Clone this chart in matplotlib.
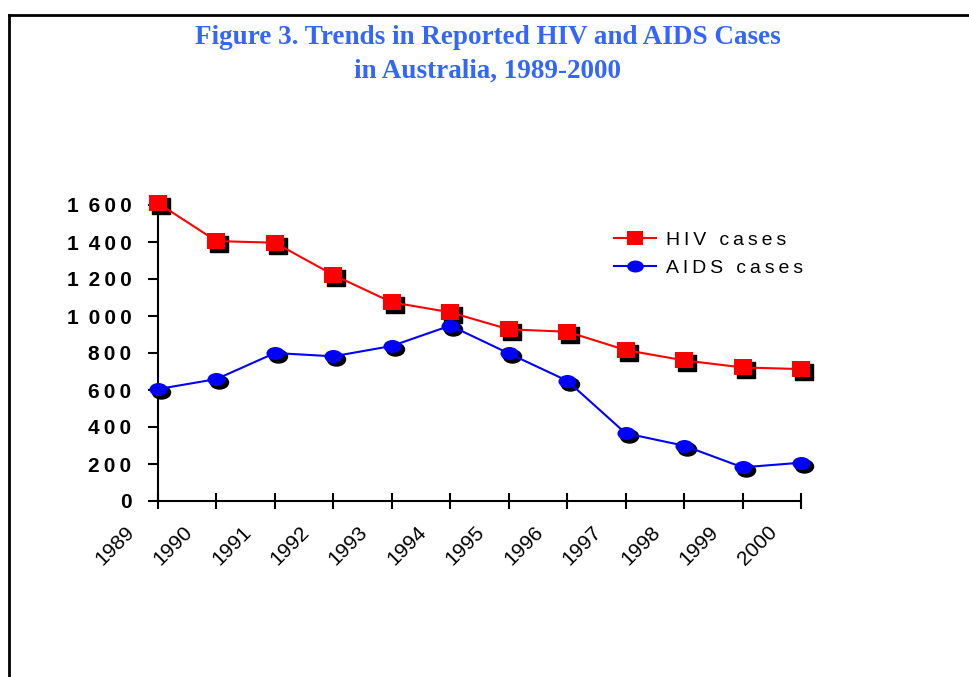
import matplotlib
matplotlib.use("Agg")
import matplotlib.pyplot as plt
import matplotlib.transforms as mtransforms
from matplotlib.path import Path
from matplotlib.lines import Line2D
from matplotlib.ticker import FuncFormatter

#--- Data
years = ["1989", "1990", "1991", "1992", "1993", "1994",
         "1995", "1996", "1997", "1998", "1999", "2000"]
hiv_cases = [1610, 1405, 1396, 1222, 1074, 1020, 928, 915, 816, 760, 722, 713]
aids_cases = [605, 659, 800, 782, 838, 948, 798, 650, 366, 299, 182, 207]
y_ticks = [0, 200, 400, 600, 800, 1000, 1200, 1400, 1600]

title = "Figure 3. Trends in Reported HIV and AIDS Cases\nin Australia, 1989-2000"

THIN = "\u2009"


def spaced(s):
    # mimic the wide letter spacing of the original chart
    return THIN.join(s)


def ylabel(v, pos):
    s = f"{int(v):,}".split(",")
    return (" " + THIN).join(spaced(part) for part in s)


# slightly flattened square and ellipse markers
square = Path([(-1, -0.85), (1, -0.85), (1, 0.85), (-1, 0.85), (-1, -0.85)],
              [Path.MOVETO, Path.LINETO, Path.LINETO, Path.LINETO, Path.CLOSEPOLY])
circ = Path.unit_circle()
ellipse = Path(circ.vertices * [1, 0.72], circ.codes)

plt.rcParams['font.family'] = ['Liberation Sans', 'DejaVu Sans']

fig = plt.figure(figsize=(9.7, 6.77), dpi=100)
ax = fig.add_axes([158 / 970, 176 / 677, 643 / 970, 296 / 677])

x = list(range(len(years)))

# drop shadows under the markers
shadow = ax.transData + mtransforms.ScaledTranslation(3 / 100, -3 / 100, fig.dpi_scale_trans)
ax.plot(x, hiv_cases, linestyle="none", marker=square, markersize=13, color="black",
        transform=shadow, clip_on=False, zorder=2)
ax.plot(x, aids_cases, linestyle="none", marker=ellipse, markersize=13, color="black",
        transform=shadow, clip_on=False, zorder=2)

ax.plot(x, hiv_cases, color="#ff0000", lw=1.5, marker=square, markersize=13,
        markeredgewidth=0, label=spaced("HIV cases"), clip_on=False, zorder=3)
ax.plot(x, aids_cases, color="#0000ff", lw=1.5, marker=ellipse, markersize=13,
        markeredgewidth=0, label=spaced("AIDS cases"), clip_on=False, zorder=3)

ax.set_xlim(0, 11)
ax.set_ylim(0, 1600)

ax.set_yticks(y_ticks)
ax.yaxis.set_major_formatter(FuncFormatter(ylabel))
ax.tick_params(axis="y", direction="out", length=7, width=1.5, pad=12, labelsize=15)
for lbl in ax.get_yticklabels():
    lbl.set_fontweight("bold")

ax.set_xticks(x)
ax.set_xticklabels(years, rotation=45, ha="right", va="center", rotation_mode="anchor")
ax.tick_params(axis="x", direction="inout", length=11, width=1.5, pad=15, labelsize=15)
# the original sets the year labels a little to the left of their ticks
shift = mtransforms.ScaledTranslation(-27 / 100, 0, fig.dpi_scale_trans)
for lbl in ax.get_xticklabels():
    lbl.set_transform(lbl.get_transform() + shift)

for side in ["top", "right"]:
    ax.spines[side].set_visible(False)
for side in ["left", "bottom"]:
    ax.spines[side].set_linewidth(1.5)

leg = ax.legend(loc="center left", bbox_to_anchor=(596 / 970, 1 - 254 / 677),
                bbox_transform=fig.transFigure, frameon=False, fontsize=14,
                handlelength=2.2, handletextpad=0.5, labelspacing=0.55)
for h in leg.legend_handles:
    h.set_markersize(12)

fig.text(0.503, 1 - 54 / 677, title, ha="center", va="center", color="#3366ff",
         fontsize=19.5, fontweight="bold", family=["Liberation Serif", "DejaVu Serif"],
         linespacing=1.45)

# outer frame (left and top edges visible in the original)
fig.add_artist(Line2D([9 / 970, 9 / 970], [0, 1 - 15 / 677], color="black", lw=2,
                      transform=fig.transFigure))
fig.add_artist(Line2D([9 / 970, 1], [1 - 15 / 677, 1 - 15 / 677], color="black", lw=2,
                      transform=fig.transFigure))

fig.savefig("out.png", dpi=100)
plt.close()
